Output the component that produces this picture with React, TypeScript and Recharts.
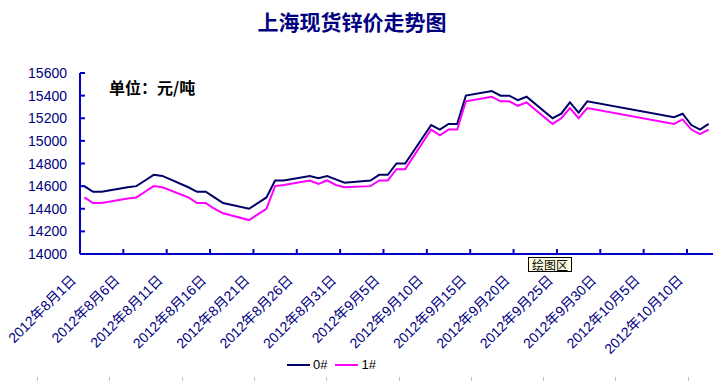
import { LineChart, Line, XAxis, YAxis, Legend } from "recharts";

// trading days, Shanghai spot zinc (yuan/ton)
const dates = [
  "2012-08-01", "2012-08-02", "2012-08-03", "2012-08-06", "2012-08-07", "2012-08-08",
  "2012-08-09", "2012-08-10", "2012-08-13", "2012-08-14", "2012-08-15", "2012-08-16",
  "2012-08-17", "2012-08-20", "2012-08-21", "2012-08-22", "2012-08-23", "2012-08-24",
  "2012-08-27", "2012-08-28", "2012-08-29", "2012-08-30", "2012-08-31", "2012-09-03",
  "2012-09-04", "2012-09-05", "2012-09-06", "2012-09-07", "2012-09-10", "2012-09-11",
  "2012-09-12", "2012-09-13", "2012-09-14", "2012-09-17", "2012-09-18", "2012-09-19",
  "2012-09-20", "2012-09-21", "2012-09-24", "2012-09-25", "2012-09-26", "2012-09-27",
  "2012-09-28", "2012-10-08", "2012-10-09", "2012-10-10", "2012-10-11", "2012-10-12",
];

const zinc0 = [
  14600, 14550, 14550, 14590, 14600, 14650, 14700, 14690, 14590, 14550, 14550, 14500,
  14450, 14400, 14450, 14500, 14650, 14650, 14690, 14670, 14690, 14660, 14630, 14650,
  14700, 14700, 14800, 14800, 15140, 15100, 15150, 15150, 15400, 15440, 15400, 15400,
  15360, 15390, 15200, 15240, 15340, 15250, 15350, 15210, 15240, 15140, 15100, 15150,
];

const zinc1 = [
  14500, 14450, 14450, 14490, 14500, 14550, 14600, 14590, 14500, 14450, 14450, 14400,
  14360, 14300, 14350, 14400, 14600, 14610, 14650, 14620, 14650, 14610, 14590, 14600,
  14650, 14650, 14750, 14750, 15100, 15050, 15100, 15100, 15350, 15390, 15350, 15350,
  15310, 15340, 15150, 15200, 15290, 15200, 15290, 15150, 15190, 15100, 15060, 15100,
];

const tickDates = [
  "2012-08-01", "2012-08-06", "2012-08-11", "2012-08-16", "2012-08-21", "2012-08-26",
  "2012-08-31", "2012-09-05", "2012-09-10", "2012-09-15", "2012-09-20", "2012-09-25",
  "2012-09-30", "2012-10-05", "2012-10-10",
];

const yTicks = [14000, 14200, 14400, 14600, 14800, 15000, 15200, 15400, 15600];

const DAY = 86400000;
const start = Date.parse(dates[0]);
const dayOf = (s: string) => Math.round((Date.parse(s) - start) / DAY);

const data = dates.map((d, i) => ({ day: dayOf(d), z0: zinc0[i], z1: zinc1[i] }));

// excel date axis: each day is a cell, ticks sit on cell edges
const xTicks = tickDates.map((d) => dayOf(d) - 0.5);
const xDomain = [-0.5, dayOf(dates[dates.length - 1]) + 0.5];

function cnDate(day: number) {
  const dt = new Date(start + day * DAY);
  return `${dt.getUTCFullYear()}年${dt.getUTCMonth() + 1}月${dt.getUTCDate()}日`;
}

const NAVY = "#000080";
const AXIS = "#0000C8";
const FONT = '"Liberation Sans", "Noto Sans CJK SC", sans-serif';

function XTick({ x, y, payload }: any) {
  const ax = x - 3;
  const ay = y + 27;
  return (
    <g>
      <line x1={x} x2={x} y1={y} y2={y - 5} stroke={AXIS} strokeWidth={2} />
      <text
        x={ax}
        y={ay}
        textAnchor="end"
        transform={`rotate(-45 ${ax} ${ay})`}
        fontSize={14}
        fontFamily={FONT}
        fill={NAVY}
      >
        {cnDate(payload.value + 0.5)}
      </text>
    </g>
  );
}

function YTick({ x, y, payload }: any) {
  return (
    <g>
      <line x1={x} x2={x + 5} y1={y} y2={y} stroke={AXIS} strokeWidth={2} />
      <text
        x={x - 13}
        y={y}
        dy={5}
        textAnchor="end"
        fontSize={14}
        fontFamily={FONT}
        fill={NAVY}
      >
        {payload.value}
      </text>
    </g>
  );
}

function LegendBox({ payload }: any) {
  return (
    <div style={{ display: "flex", alignItems: "center", fontFamily: FONT, fontSize: 13 }}>
      {(payload || []).map((p: any) => (
        <div key={p.value} style={{ display: "flex", alignItems: "center", marginRight: 8 }}>
          <div style={{ width: 23, height: 2, background: p.color, marginRight: 3 }} />
          <span style={{ color: "#000" }}>{p.value}</span>
        </div>
      ))}
    </div>
  );
}

export default function App() {
  return (
    <div style={{ position: "absolute", left: 0, top: 0, width: 719, height: 381, background: "#fff", overflow: "hidden" }}>
      <div
        style={{
          position: "absolute",
          left: 0,
          width: 704,
          top: 9,
          textAlign: "center",
          fontFamily: '"Noto Sans CJK SC", sans-serif',
          fontWeight: "bold",
          fontSize: 21,
          lineHeight: "24px",
          color: NAVY,
        }}
      >
        上海现货锌价走势图
      </div>
      <LineChart width={719} height={381} data={data} margin={{ top: 73, right: 6, left: 10, bottom: 37 }}>
        <XAxis
          type="number"
          dataKey="day"
          domain={xDomain}
          ticks={xTicks}
          interval={0}
          allowDataOverflow
          tick={<XTick />}
          tickSize={0}
          tickMargin={0}
          tickLine={false}
          axisLine={{ stroke: AXIS, strokeWidth: 2 }}
          height={90}
        />
        <YAxis
          domain={[14000, 15600]}
          ticks={yTicks}
          interval={0}
          tick={<YTick />}
          tickSize={0}
          tickMargin={0}
          tickLine={false}
          axisLine={{ stroke: AXIS, strokeWidth: 2 }}
          width={70}
        />
        <Line
          type="linear"
          dataKey="z0"
          name="0#"
          stroke="#000066"
          strokeWidth={2}
          dot={false}
          isAnimationActive={false}
        />
        <Line
          type="linear"
          dataKey="z1"
          name="1#"
          stroke="#FF00FF"
          strokeWidth={2}
          dot={false}
          isAnimationActive={false}
        />
      </LineChart>
      <div style={{ position: "absolute", left: 287, top: 357 }}>
        <LegendBox
          payload={[
            { value: "0#", color: "#000066" },
            { value: "1#", color: "#FF00FF" },
          ]}
        />
      </div>
      <div
        style={{
          position: "absolute",
          left: 109,
          top: 78,
          fontFamily: '"Noto Sans CJK SC", sans-serif',
          fontWeight: "bold",
          fontSize: 16,
          lineHeight: "18px",
          color: "#000",
        }}
      >
        单位：元/吨
      </div>
      <div
        style={{
          position: "absolute",
          left: 528,
          top: 257,
          width: 42,
          height: 13,
          border: "1px solid #000",
          background: "#FFFFE1",
          fontFamily: '"Noto Sans CJK SC", sans-serif',
          fontSize: 12,
          lineHeight: "13px",
          textAlign: "center",
          color: "#000",
        }}
      >
        绘图区
      </div>
      <div
        style={{
          position: "absolute",
          left: 37,
          top: 377,
          width: 682,
          height: 4,
          background: "repeating-linear-gradient(to right, #c0c0c0 0 1px, transparent 1px 72.3px)",
        }}
      />
    </div>
  );
}
